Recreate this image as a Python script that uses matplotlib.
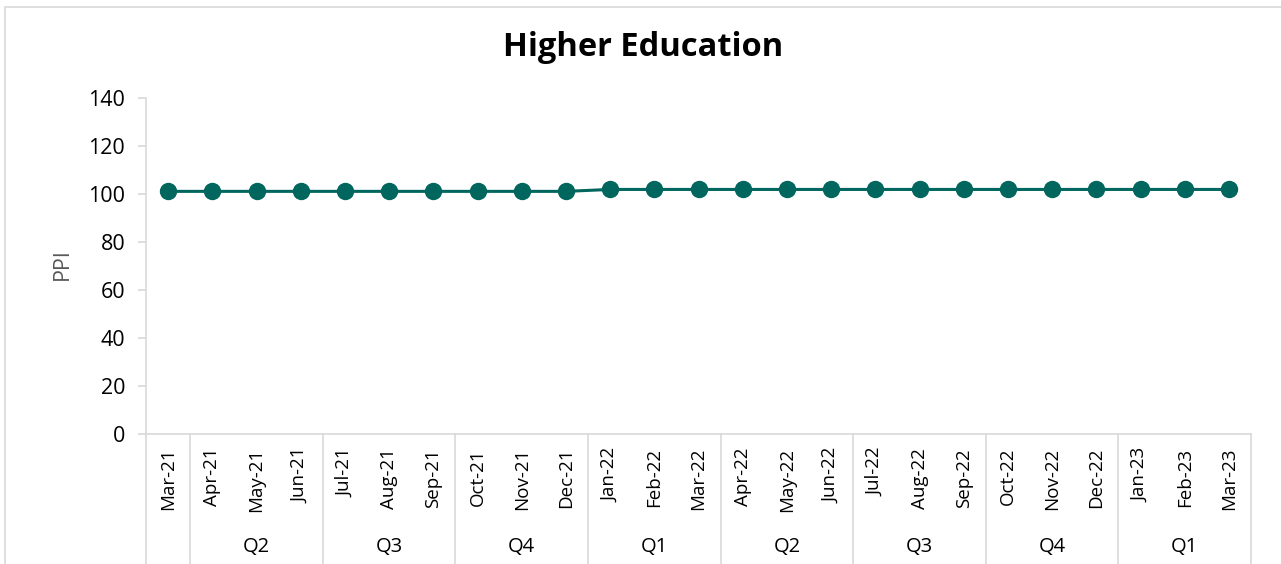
"""Higher Education PPI line chart with a two-level (month / quarter) category axis."""

import matplotlib

matplotlib.use("Agg")
import matplotlib.pyplot as plt  # noqa: E402
from matplotlib.patches import Rectangle  # noqa: E402

months = ["Mar-21", "Apr-21", "May-21", "Jun-21", "Jul-21", "Aug-21", "Sep-21",
          "Oct-21", "Nov-21", "Dec-21", "Jan-22", "Feb-22", "Mar-22", "Apr-22",
          "May-22", "Jun-22", "Jul-22", "Aug-22", "Sep-22", "Oct-22", "Nov-22",
          "Dec-22", "Jan-23", "Feb-23", "Mar-23"]
ppi = [101.1, 101.1, 101.1, 101.1, 101.1, 101.1, 101.1, 101.1, 101.1, 101.1,
       101.9, 101.9, 101.9, 101.9, 101.9, 101.9, 101.9, 101.9, 101.9, 101.9,
       101.9, 101.9, 101.9, 101.9, 101.9]
quarters = ["", "Q2", "Q3", "Q4", "Q1", "Q2", "Q3", "Q4", "Q1"]
quarter_sizes = [1, 3, 3, 3, 3, 3, 3, 3, 3]
y_ticks = [0, 20, 40, 60, 80, 100, 120, 140]

TEAL = "#00665e"
GRID = "#d9d9d9"
FONT = "Open Sans"

W, H = 1281, 564
fig = plt.figure(figsize=(W / 100, H / 100), dpi=100)
fig.patch.set_facecolor("white")

# outer chart border (only top/left visible in the original crop)
fig.add_artist(Rectangle((5 / W, -0.1), 1.2, 1 - 7 / H + 0.1, transform=fig.transFigure,
                         fill=False, edgecolor=GRID, lw=1.2))

x0, x1, ytop, ybot = 146, 1251, 98, 434
ax = fig.add_axes([x0 / W, 1 - ybot / H, (x1 - x0) / W, (ybot - ytop) / H])
xs = list(range(len(months)))
ax.plot(xs, ppi, color=TEAL, lw=2.2, marker="o", ms=11.5, zorder=3)

ax.set_xlim(-0.5, len(months) - 0.5)
ax.set_ylim(0, 140)
ax.set_yticks(y_ticks)
ax.set_yticklabels([str(v) for v in y_ticks], fontsize=15.5, fontfamily=FONT)
ax.tick_params(axis="y", length=6, color=GRID, width=1.2, pad=9)
ax.set_xticks([])
for s in ("top", "right"):
    ax.spines[s].set_visible(False)
for s in ("left", "bottom"):
    ax.spines[s].set_color(GRID)
    ax.spines[s].set_linewidth(1.2)

fig.text(62 / W, 1 - 264 / H, "PPI", rotation=90, ha="center", va="center",
         fontsize=15.5, fontfamily=FONT, color="#595959")

# multi-level category axis
trans = ax.get_xaxis_transform()
px = 1 / (ybot - ytop)  # one pixel in axes-fraction units
for i, m in enumerate(months):
    ax.text(i, -14 * px, m, rotation=90, ha="center", va="top", fontsize=13.5,
            fontfamily=FONT, transform=trans)

start = -0.5
ax.plot([start, start], [0, -(H - ybot) * px], color=GRID, lw=1.2,
        transform=trans, clip_on=False)
for q, n in zip(quarters, quarter_sizes):
    end = start + n
    ax.plot([end, end], [0, -(H - ybot) * px], color=GRID, lw=1.2,
            transform=trans, clip_on=False)
    ax.text((start + end) / 2, -(547 - ybot) * px, q, ha="center", va="center",
            fontsize=14.5, fontfamily=FONT, transform=trans)
    start = end

fig.text(0.502, 1 - 47 / H, "Higher Education", ha="center", va="center",
         fontsize=23.5, fontweight="bold", fontfamily=FONT)

fig.savefig("out.png", dpi=100, facecolor="white")
